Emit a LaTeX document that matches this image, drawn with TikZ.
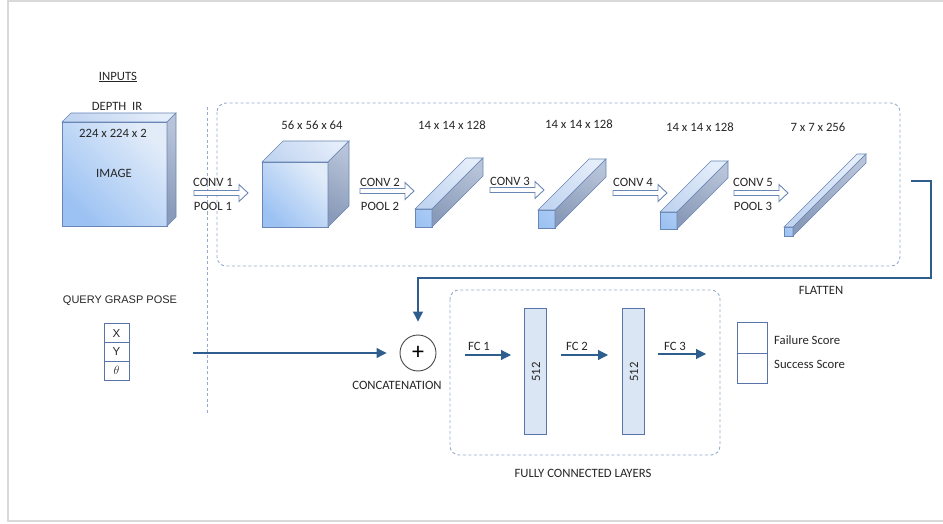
\documentclass[tikz,border=0pt]{standalone}
\usepackage{fontspec}
\setmainfont{Carlito}
\newfontfamily\arialfont{Liberation Sans}
\usetikzlibrary{arrows.meta}

\definecolor{ink}{HTML}{262626}
\definecolor{framegray}{HTML}{D9D9D9}
\definecolor{dashblue}{HTML}{93AACF}
\definecolor{linkblue}{HTML}{2E5E8E}
\definecolor{edgeblue}{HTML}{6A86B5}
\definecolor{frontdark}{HTML}{9CC2F3}
\definecolor{frontlight}{HTML}{E2ECF9}
\definecolor{barfront}{HTML}{A9CAF4}
\definecolor{topdark}{HTML}{C3D6F1}
\definecolor{toplight}{HTML}{E4EDFA}
\definecolor{sidelight}{HTML}{B7C3D8}
\definecolor{sidedark}{HTML}{8A9BB9}
\definecolor{fcfill}{HTML}{DAE6F4}
\definecolor{fcedge}{HTML}{5874A8}

% a layer block: front face at (#2,#3), width #4, height #5, depth #6;
% #1 is the light end of the front face shading
\newcommand\layerprism[6][frontlight]{%
  \shadedraw[draw=edgeblue, line width=0.6, top color=#1, bottom color=frontdark, shading angle=-45]
    (#2,#3) rectangle ++(#4,#5);
  \shadedraw[draw=edgeblue, line width=0.6, top color=toplight, bottom color=topdark, shading angle=-45]
    (#2,#3) -- ++(#6,-#6) -- ++(#4,0) -- ++(-#6,#6) -- cycle;
  \shadedraw[draw=edgeblue, line width=0.6, top color=sidelight, bottom color=sidedark, shading angle=-30]
    (#2+#4,#3) -- ++(#6,-#6) -- ++(0,#5) -- ++(-#6,#6) -- cycle;
}

\tikzset{
  lbl/.style={font=\fontsize{12.7}{15}\selectfont, text=ink, inner sep=0},
  albl/.style={font=\arialfont\fontsize{11}{13}\selectfont, text=ink, inner sep=0},
  dashbox/.style={draw=dashblue, line width=0.9, dash pattern=on 3pt off 2.5pt, rounded corners=9},
  link/.style={draw=linkblue, line width=1.1},
  linkarrow/.style={link, -{Triangle[length=10pt, width=10pt]}},
  fcbar/.style={draw=fcedge, fill=fcfill, line width=1, minimum width=22, minimum height=126, inner sep=0},
  cell/.style={draw=fcedge, line width=1, minimum width=25, minimum height=18.7, inner sep=0,
    font=\arialfont\fontsize{11.5}{13}\selectfont, text=ink},
  scorecell/.style={draw=fcedge, line width=1, minimum width=30, minimum height=30.5, inner sep=0},
  blockarrow/.style={draw=edgeblue, fill=white, line width=0.9, line join=miter},
  convarrow/.pic={\path[blockarrow] (0,-2.5) -- (45,-2.5) -- (45,-8.5) -- (54,0) -- (45,8.5) -- (45,2.5) -- (0,2.5) -- cycle;}
}

\begin{document}
\begin{tikzpicture}[x=1pt, y=-1pt]
\useasboundingbox (0,0) rectangle (943,524);

% page frame
\draw[framegray, line width=1.5] (943,1) -- (8,1) -- (8,521) -- (943,521);

% separators and groupings
\draw[draw=dashblue, line width=0.9, dash pattern=on 3pt off 2.5pt] (207,107) -- (207,415);
\draw[dashbox] (217,103) rectangle (900,266);
\draw[dashbox] (450,290) rectangle (720,455);

% input image
\node[lbl] (inputs) at (118,77) {\underline{INPUTS}};
\node[lbl] (depthir) at (117,106) {DEPTH\ \ IR};
\layerprism{62}{122}{105}{104}{9}
\node[lbl] (imgsize) at (113,133) {224 x 224 x 2};
\node[lbl] (image) at (114,173) {IMAGE};

% convolution stack
\pic (c1) at (194,193) {convarrow};
\node[lbl] (conv1) at (213,182) {CONV 1};
\node[lbl] (pool1) at (213,206) {POOL 1};

\layerprism{262}{162}{66}{65}{21}
\node[lbl] (dim1) at (312,125) {56 x 56 x 64};

\pic (c2) at (360,191) {convarrow};
\node[lbl] (conv2) at (380,182) {CONV 2};
\node[lbl] (pool2) at (380,206) {POOL 2};

\layerprism[barfront]{415}{209}{17}{18}{51}
\node[lbl] (dim2) at (452,125) {14 x 14 x 128};

\pic (c3) at (490,190) {convarrow};
\node[lbl] (conv3) at (510,181) {CONV 3};

\layerprism[barfront]{538}{210}{17}{18}{51}
\node[lbl] (dim3) at (579,124) {14 x 14 x 128};

\pic (c4) at (613,193) {convarrow};
\node[lbl] (conv4) at (633,182) {CONV 4};

\layerprism[barfront]{660}{212}{17}{17}{51}
\node[lbl] (dim4) at (700,127) {14 x 14 x 128};

\pic (c5) at (734,193) {convarrow};
\node[lbl] (conv5) at (753,182) {CONV 5};
\node[lbl] (pool3) at (753,206) {POOL 3};

\layerprism[barfront]{784}{227}{9}{9}{73}
\node[lbl] (dim5) at (818,127) {7 x 7 x 256};

% query grasp pose
\node[albl] (query) at (120,301) {QUERY GRASP POSE};
\node[cell] (px) at (116.5,333.3) {X};
\node[cell] (py) at (116.5,352) {Y};
\node[cell, font=\fontsize{13}{14}\selectfont] (pt) at (116.5,370.7) {$\theta$};

% concatenation
\node[circle, draw=ink!85, line width=0.9, minimum size=36, inner sep=0] (cat) at (418,353)
  {\fontsize{24}{24}\selectfont +};
\node[lbl] (catlbl) at (397,385) {CONCATENATION};

\coordinate (qstart) at (193,353);
\draw[linkarrow, shorten >=13pt] (qstart) -- (cat);

% flatten path
\coordinate (fl0) at (911,181);
\coordinate (fl1) at (931,181);
\coordinate (fl2) at (931,278);
\coordinate (fl3) at (418,278);
\draw[linkarrow, shorten >=13pt] (fl0) -- (fl1) -- (fl2) -- (fl3) -- (cat);
\node[lbl] (flatten) at (821,290) {FLATTEN};

% fully connected layers
\node[fcbar] (fc1bar) at (535.5,371) {};
\node[lbl, rotate=90] (n512a) at (536,372) {512};
\node[fcbar] (fc2bar) at (633.5,371) {};
\node[lbl, rotate=90] (n512b) at (634,372) {512};

\coordinate (a1s) at (465,355);
\coordinate (a1e) at (511,355);
\coordinate (a2s) at (561,355);
\coordinate (a2e) at (608,355);
\coordinate (a3s) at (658,354);
\coordinate (a3e) at (706,354);
\draw[linkarrow] (a1s) -- (a1e);
\draw[linkarrow] (a2s) -- (a2e);
\draw[linkarrow] (a3s) -- (a3e);
\node[lbl] (fc1) at (479,346) {FC 1};
\node[lbl] (fc2) at (577,346) {FC 2};
\node[lbl] (fc3) at (675,346) {FC 3};

\node[lbl] (fclbl) at (583,473) {FULLY CONNECTED LAYERS};

% output scores
\node[scorecell] (fail) at (752,338) {};
\node[scorecell] (succ) at (752,368.5) {};
\node[lbl, anchor=west] (failtxt) at (774,340) {Failure Score};
\node[lbl, anchor=west] (succtxt) at (774,364) {Success Score};
\end{tikzpicture}
\end{document}
